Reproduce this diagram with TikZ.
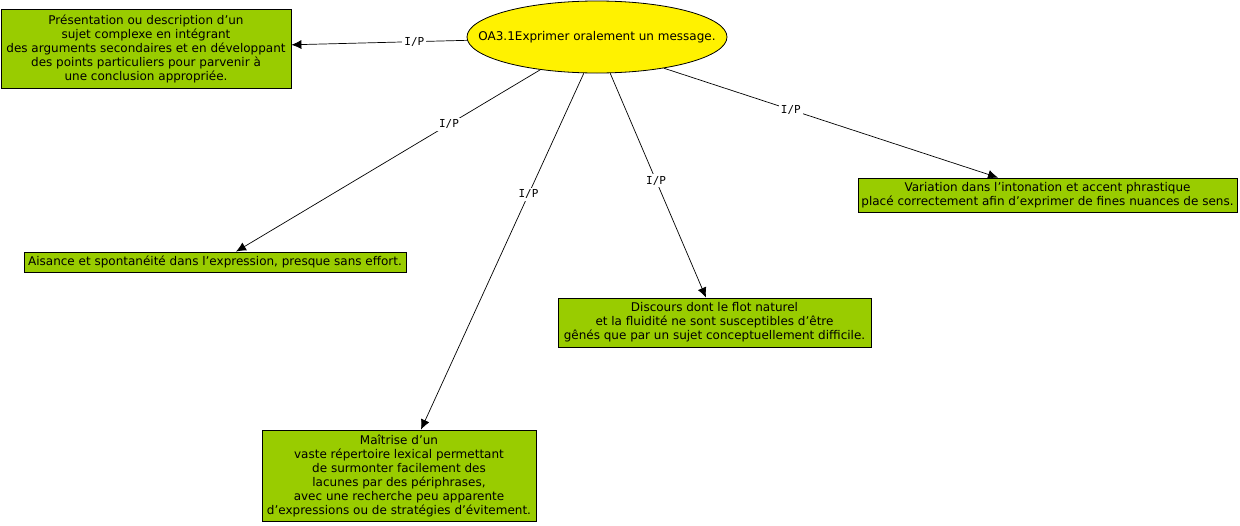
\documentclass[tikz,border=0pt]{standalone}
\usepackage{fontspec}
\setmainfont{DejaVu Sans}
\newfontfamily\labelfont{DejaVu Sans Mono}
\usetikzlibrary{arrows.meta,shapes.geometric}

\definecolor{boxgreen}{HTML}{99CC00}

\begin{document}
\begin{tikzpicture}[x=1pt,y=-1pt,>=Latex,
  every node/.style={font=\fontsize{12}{14}\selectfont},
  box/.style={draw,line width=0.8pt,fill=boxgreen,align=center,inner sep=0pt},
  rel/.style={fill=white,inner sep=2pt,font=\labelfont\fontsize{11}{12}\selectfont},
  link/.style={line width=0.7pt,->,>={Latex[length=10pt,width=9pt]}}]
  \useasboundingbox (0,0) rectangle (1240,525);
  \node[ellipse,draw,line width=0.8pt,fill=yellow,minimum width=260pt,minimum height=72pt,inner sep=0pt] (oa) at (597,37) {\makebox[0pt]{OA3.1Exprimer oralement un message.}};

  \node[box,minimum width=290pt,minimum height=79pt] (pres) at (146,48.5) {Présentation ou description d’un\\sujet complexe en intégrant\\des arguments secondaires et en développant\\des points particuliers pour parvenir à\\une conclusion appropriée.};
  \node[box,minimum width=382pt,minimum height=20pt] (ais) at (215,262) {Aisance et spontanéité dans l’expression, presque sans effort.};
  \node[box,minimum width=274pt,minimum height=91pt] (mait) at (399,475.5) {Maîtrise d’un\\vaste répertoire lexical permettant\\de surmonter facilement des\\lacunes par des périphrases,\\avec une recherche peu apparente\\d’expressions ou de stratégies d’évitement.};
  \node[box,minimum width=313pt,minimum height=49pt] (disc) at (714.5,322.5) {Discours dont le flot naturel\\et la fluidité ne sont susceptibles d’être\\gênés que par un sujet conceptuellement difficile.};
  \node[box,minimum width=379pt,minimum height=34pt] (var) at (1047.5,195) {Variation dans l’intonation et accent phrastique\\placé correctement afin d’exprimer de fines nuances de sens.};

  \draw[link] (oa) -- node[rel,pos=0.3] (r1) {I/P} (pres);
  \draw[link] (oa.210) -- node[rel,pos=0.3] (r2) {I/P} (ais.north -| 236,0);
  \draw[link] (oa.250) -- node[rel,pos=0.34] (r3) {I/P} (mait.north -| 421,0);
  \draw[link] (oa.290) -- node[rel,pos=0.48] (r4) {I/P} (disc.north -| 706,0);
  \draw[link] (oa.335) -- node[rel,pos=0.38] (r5) {I/P} (var.north -| 998,0);
\end{tikzpicture}
\end{document}
